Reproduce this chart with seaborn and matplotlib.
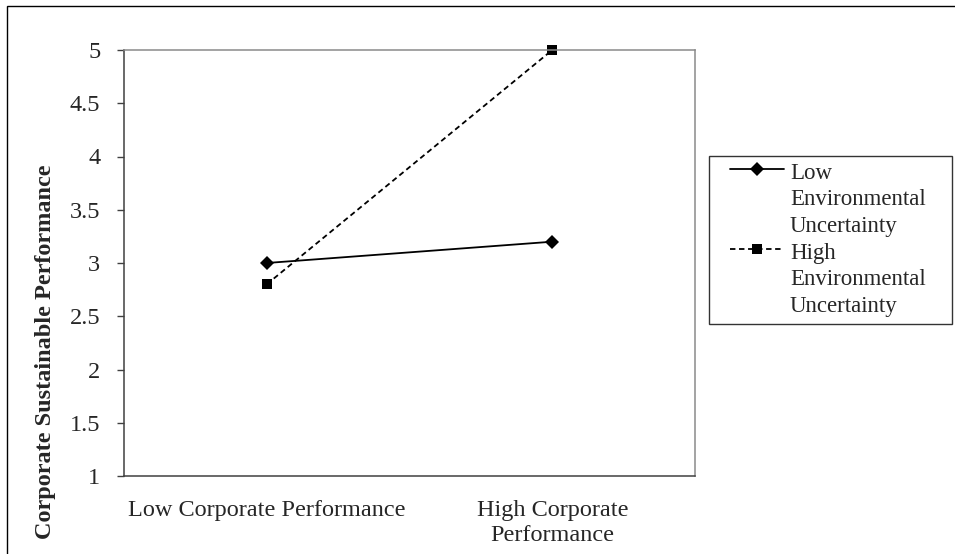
import numpy as np
import pandas as pd
import matplotlib.pyplot as plt
import seaborn as sns
from matplotlib.patches import Rectangle
from matplotlib.legend_handler import HandlerLine2D

categories = ["Low Corporate Performance", "High Corporate\nPerformance"]
low_uncertainty = [3.0, 3.2]
high_uncertainty = [2.8, 5.0]
series_labels = ["Low\nEnvironmental\nUncertainty", "High\nEnvironmental\nUncertainty"]
y_ticks = [1, 1.5, 2, 2.5, 3, 3.5, 4, 4.5, 5]

sns.set_style("white")
plt.rcParams['font.family'] = ['Liberation Serif', 'DejaVu Serif']

df = pd.DataFrame({
    "pos": [0, 1, 0, 1],
    "score": low_uncertainty + high_uncertainty,
    "group": [series_labels[0]] * 2 + [series_labels[1]] * 2,
})

fig = plt.figure(figsize=(9.55, 5.54), dpi=100)
ax = fig.add_axes([124 / 955, 78 / 554, 571 / 955, 426 / 554])

sns.lineplot(data=df[df.group == series_labels[0]], x="pos", y="score", ax=ax,
             color="black", lw=1.3, marker="D", markersize=7, markeredgewidth=0,
             label=series_labels[0], clip_on=False)
sns.lineplot(data=df[df.group == series_labels[1]], x="pos", y="score", ax=ax,
             color="black", lw=1.3, linestyle=(0, (3, 2)), marker="s", markersize=7.5,
             markeredgewidth=0, label=series_labels[1], clip_on=False)

ax.set_xlim(-0.5, 1.5)
ax.set_ylim(1, 5)
ax.set_xticks([0, 1], labels=categories)
ax.set_xticks([-0.5, 0.5, 1.5], minor=True)
ax.tick_params(axis="x", which="major", length=0, pad=17, labelsize=17.5)
ax.tick_params(axis="x", which="minor", length=5, width=1, color="#404040", direction="out")
for t in ax.get_xticklabels():
    t.set_linespacing(1.25)
ax.set_yticks(y_ticks, labels=[f"{v:g}" for v in y_ticks])
ax.tick_params(axis="y", length=5, width=1, color="#404040", direction="out", pad=12,
               labelsize=17.5, left=True)
ax.set_xlabel("")
ax.set_ylabel("")

for side in ["left", "bottom"]:
    ax.spines[side].set_color("#404040")
    ax.spines[side].set_linewidth(1.1)
for side in ["top", "right"]:
    ax.spines[side].set_color("#8a8a8a")
    ax.spines[side].set_linewidth(1.1)

fig.text(45 / 955, 1 - 352 / 554, "Corporate Sustainable Performance", rotation=90,
         ha="center", va="center", fontsize=17.5, fontweight="bold")


class TopLineHandler(HandlerLine2D):
    # put the legend glyph next to the first line of a multi-line label
    def create_artists(self, legend, orig_handle, xdescent, ydescent, width, height, fontsize, trans):
        shift = 1.35 * fontsize
        return super().create_artists(legend, orig_handle, xdescent, ydescent - 2 * shift,
                                      width, height, fontsize, trans)


handles, labels = ax.get_legend_handles_labels()
ax.get_legend().remove()
leg = fig.legend(handles, labels, loc="upper left",
                 bbox_to_anchor=(709 / 955, 1 - 321 / 554, 243 / 955, 165 / 554), mode="expand",
                 borderaxespad=0, frameon=True, fancybox=False, edgecolor="black", fontsize=16.5,
                 handlelength=2.97, handletextpad=0.26, borderpad=0.3, labelspacing=0.25,
                 handler_map={h: TopLineHandler(numpoints=1, xpad=0.6) for h in handles})
leg.get_frame().set_linewidth(1.0)
for t in leg.get_texts():
    t.set_linespacing(1.35)

fig.patches.append(Rectangle((7 / 955, -0.1), 1.0, 1.1 - 6 / 554, transform=fig.transFigure,
                             fill=False, edgecolor="black", lw=1.0))

fig.savefig("out.png", dpi=100)
